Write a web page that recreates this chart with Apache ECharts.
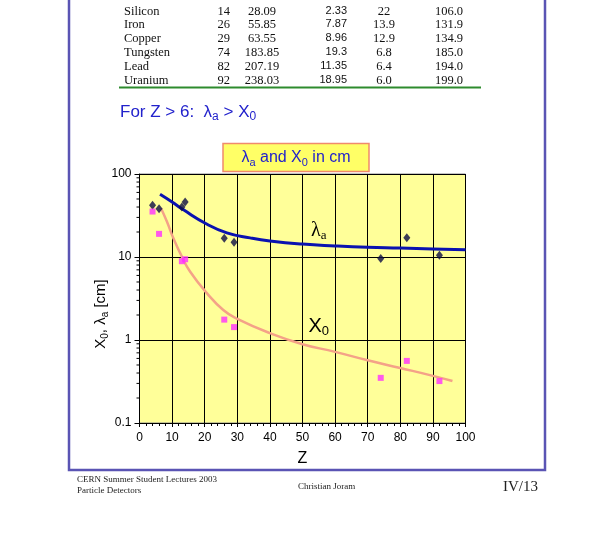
<!DOCTYPE html>
<html><head><meta charset="utf-8">
<script src="https://cdn.jsdelivr.net/npm/echarts@6/dist/echarts.min.js"></script>
<style>html,body{margin:0;padding:0;background:#fff}#c{width:603px;height:557px}</style>
</head><body><div id="c"></div>
<script>
// measured points (Z, value in cm)
const elementZ = [4, 6, 13, 14, 26, 29, 74, 82, 92];
const lambdaA = [42.1, 38.1, 40, 46, 16.8, 15.1, 9.6, 17.1, 10.5];
const x0 = [35.3, 19.0, 8.9, 9.4, 1.76, 1.43, 0.35, 0.56, 0.32];
// fitted curves
const lambdaCurveZ = [6.3, 10, 13.5, 20.6, 26.8, 33.9, 40, 50, 60, 70, 80, 90, 100];
const lambdaCurveV = [57, 46, 37, 25, 19.5, 17, 15.6, 14.3, 13.6, 13.1, 12.8, 12.45, 12.2];
const x0CurveZ = [6.6, 8.4, 10.4, 13, 15.5, 20.6, 25.7, 30, 40, 50, 60, 70, 80, 90, 96];
const x0CurveV = [38.6, 26.7, 16.8, 10.1, 6.7, 3.7, 2.3, 1.8, 1.21, 0.89, 0.72, 0.57, 0.46, 0.37, 0.32];
// table at top
const tableNames = ['Silicon', 'Iron', 'Copper', 'Tungsten', 'Lead', 'Uranium'];
const tableZ = ['14', '26', '29', '74', '82', '92'];
const tableA = ['28.09', '55.85', '63.55', '183.85', '207.19', '238.03'];
const tableRho = ['2.33', '7.87', '8.96', '19.3', '11.35', '18.95'];
const tableX0 = ['22', '13.9', '12.9', '6.8', '6.4', '6.0'];
const tableLambda = ['106.0', '131.9', '134.9', '185.0', '194.0', '199.0'];
const xTicks = [0, 10, 20, 30, 40, 50, 60, 70, 80, 90, 100];
const yMinorTicks = [0.2, 0.3, 0.4, 0.5, 0.6, 0.7, 0.8, 0.9,
  2, 3, 4, 5, 6, 7, 8, 9, 20, 30, 40, 50, 60, 70, 80, 90];

const zip = (a, b) => a.map((v, i) => [v, b[i]]);
const serif = '"Liberation Serif", "DejaVu Serif", serif';
const sans = '"Liberation Sans", Arial, sans-serif';

const graphic = [];
// slide frame
graphic.push({type: 'polyline', shape: {points: [[69, -5], [69, 470], [545, 470], [545, -5]]},
  style: {stroke: '#5a54b4', lineWidth: 2.5, fill: null}, z: 1});
// table
const rowY = [12, 25, 39, 53, 67, 81];
tableNames.forEach((n, i) => {
  const y = rowY[i];
  const f = '12.5px ' + serif;
  graphic.push({type: 'text', x: 124, y: y, style: {text: n, font: f, fill: '#111', verticalAlign: 'middle', align: 'left'}});
  graphic.push({type: 'text', x: 230, y: y, style: {text: tableZ[i], font: f, fill: '#111', verticalAlign: 'middle', align: 'right'}});
  graphic.push({type: 'text', x: 262, y: y, style: {text: tableA[i], font: f, fill: '#111', verticalAlign: 'middle', align: 'center'}});
  graphic.push({type: 'text', x: 347, y: y - 1, style: {text: tableRho[i], font: '11px ' + sans, fill: '#111', verticalAlign: 'middle', align: 'right'}});
  graphic.push({type: 'text', x: 384, y: y, style: {text: tableX0[i], font: f, fill: '#111', verticalAlign: 'middle', align: 'center'}});
  graphic.push({type: 'text', x: 449, y: y, style: {text: tableLambda[i], font: f, fill: '#111', verticalAlign: 'middle', align: 'center'}});
});
graphic.push({type: 'line', shape: {x1: 119, y1: 87.5, x2: 481, y2: 87.5}, style: {stroke: '#2e8b2e', lineWidth: 2}});
// statement
graphic.push({type: 'text', x: 120, y: 112, style: {
  text: '{t|For Z > 6:  λ}{s|a}{t| > X}{s|0}',
  verticalAlign: 'middle',
  rich: {t: {font: '17px ' + sans, fill: '#2222cc'}, s: {font: '12px ' + sans, fill: '#2222cc', padding: [10, 0, 0, 0]}}
}});
// title box
graphic.push({type: 'rect', shape: {x: 223, y: 143.5, width: 146, height: 28},
  style: {fill: '#ffff66', stroke: '#f08a6c', lineWidth: 1.5}});
graphic.push({type: 'text', x: 296, y: 158, style: {
  text: '{t|λ}{s|a}{t| and X}{s|0}{t| in cm}', align: 'center', verticalAlign: 'middle',
  rich: {t: {font: '16px ' + sans, fill: '#2222cc'}, s: {font: '11px ' + sans, fill: '#2222cc', padding: [9, 0, 0, 0]}}
}});
// y axis name
graphic.push({type: 'text', x: 101, y: 314, rotation: Math.PI / 2, style: {
  text: '{t|X}{s|0}{t|, λ}{s|a}{t| [cm]}', align: 'center', verticalAlign: 'middle',
  rich: {t: {font: '15px ' + sans, fill: '#000'}, s: {font: '10px ' + sans, fill: '#000', padding: [8, 0, 0, 0]}}
}});
// footer
graphic.push({type: 'text', x: 77, y: 480, style: {text: 'CERN Summer Student Lectures 2003', font: '9px ' + serif, fill: '#222', verticalAlign: 'middle'}});
graphic.push({type: 'text', x: 77, y: 491, style: {text: 'Particle Detectors', font: '9px ' + serif, fill: '#222', verticalAlign: 'middle'}});
graphic.push({type: 'text', x: 298, y: 487, style: {text: 'Christian Joram', font: '9px ' + serif, fill: '#222', verticalAlign: 'middle'}});
graphic.push({type: 'text', x: 503, y: 487, style: {text: 'IV/13', font: '15px ' + serif, fill: '#222', verticalAlign: 'middle'}});

const chart = echarts.init(document.getElementById('c'), null, {renderer: 'canvas'});
chart.setOption({
  animation: false,
  backgroundColor: '#ffffff',
  graphic: graphic,
  grid: {left: 139.5, right: 137.5, top: 174, bottom: 134, show: true,
    backgroundColor: '#ffff99', borderColor: '#888', borderWidth: 1},
  xAxis: {
    type: 'value', min: xTicks[0], max: xTicks[xTicks.length - 1], interval: 10,
    name: 'Z', nameLocation: 'middle', nameGap: 28,
    nameTextStyle: {fontSize: 16, color: '#000', fontFamily: sans},
    axisLine: {lineStyle: {color: '#000', width: 1}},
    axisTick: {show: true, length: 4, lineStyle: {color: '#000'}},
    minorTick: {show: true, splitNumber: 5, length: 3, lineStyle: {color: '#000'}},
    splitLine: {show: true, lineStyle: {color: '#000', width: 1}},
    axisLabel: {fontSize: 12, color: '#000', margin: 9, fontFamily: sans}
  },
  yAxis: {
    type: 'log', logBase: 10, min: 0.1, max: 100,
    axisLine: {show: true, lineStyle: {color: '#000', width: 1}},
    axisTick: {show: true, length: 5, lineStyle: {color: '#000'}},
    minorTick: {show: false},
    splitLine: {show: true, lineStyle: {color: '#000', width: 1}},
    axisLabel: {fontSize: 12, color: '#000', margin: 8, fontFamily: sans,
      formatter: v => String(v)}
  },
  series: [
    {type: 'custom', data: yMinorTicks.map(v => [0, v]), silent: true, z: 5,
      renderItem: (params, api) => {
        const p = api.coord([0, api.value(1)]);
        return {type: 'line', shape: {x1: p[0] - 3, y1: p[1], x2: p[0], y2: p[1]},
          style: {stroke: '#000', lineWidth: 1}};
      }},
    {type: 'line', data: zip(lambdaCurveZ, lambdaCurveV), smooth: true, showSymbol: false,
      lineStyle: {color: '#0a12b0', width: 3}, z: 3,
      markPoint: {symbol: 'circle', symbolSize: 0, data: [{coord: [55, 20.6]}],
        label: {show: true, position: 'inside', formatter: '{l|λ}{s|a}',
          rich: {l: {fontSize: 20, fontFamily: serif, color: '#000'}, s: {fontSize: 13, fontFamily: serif, color: '#000', padding: [10, 0, 0, 0]}}}}},
    {type: 'line', data: zip(x0CurveZ, x0CurveV), smooth: true, showSymbol: false,
      lineStyle: {color: '#f4a288', width: 2.5}, z: 3,
      markPoint: {symbol: 'circle', symbolSize: 0, data: [{coord: [55, 1.44]}],
        label: {show: true, position: 'inside', formatter: '{l|X}{s|0}',
          rich: {l: {fontSize: 20, fontFamily: sans, color: '#000'}, s: {fontSize: 13, fontFamily: sans, color: '#000', padding: [10, 0, 0, 0]}}}}},
    {type: 'scatter', data: zip(elementZ, lambdaA), symbol: 'diamond', symbolSize: [7, 9],
      itemStyle: {color: '#0c0c44'}, z: 4},
    {type: 'scatter', data: zip(elementZ, x0), symbol: 'rect', symbolSize: 6,
      itemStyle: {color: '#ff30ff'}, z: 4}
  ]
});
</script></body></html>
